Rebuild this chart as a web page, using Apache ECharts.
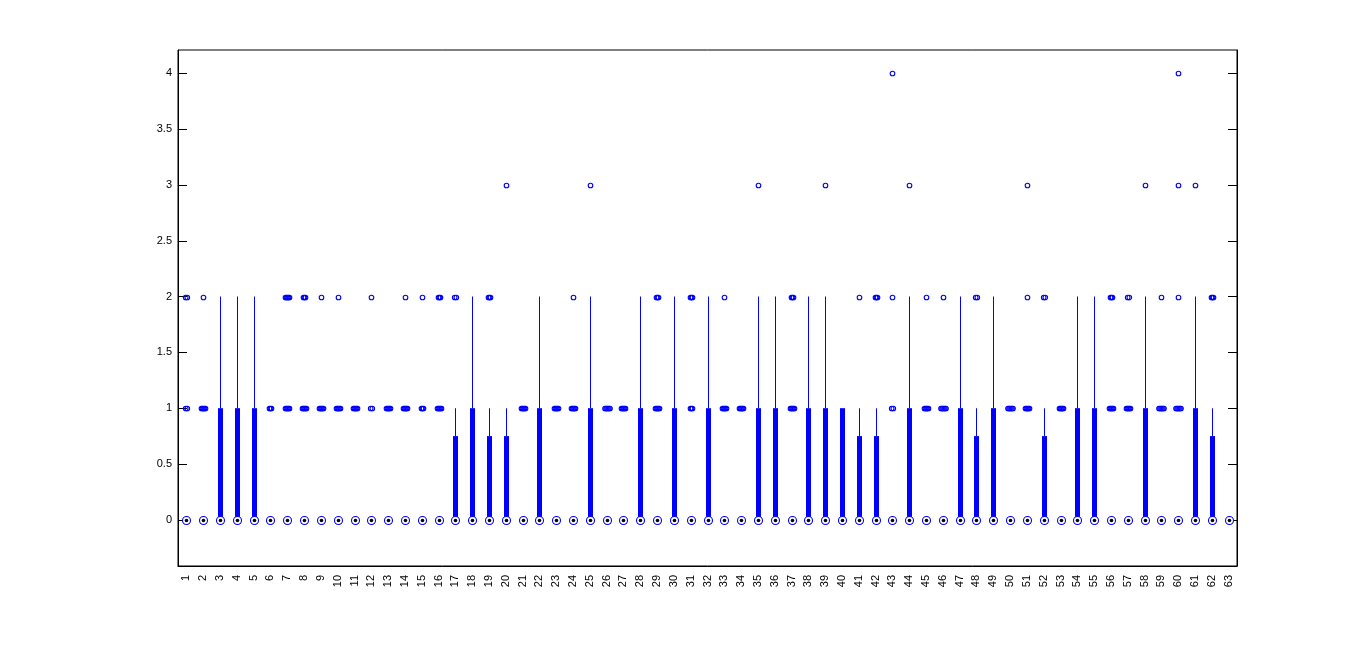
<!DOCTYPE html>
<html>
<head>
<meta charset="utf-8">
<script src="https://cdn.jsdelivr.net/npm/echarts@6/dist/echarts.min.js"></script>
<style>
html,body{margin:0;padding:0;background:#fff;}
#chart{width:1367px;height:662px;}
</style>
</head>
<body>
<div id="chart"></div>
<script>
const categories = ['1','2','3','4','5','6','7','8','9','10','11','12','13','14','15','16','17','18','19','20','21','22','23','24','25','26','27','28','29','30','31','32','33','34','35','36','37','38','39','40','41','42','43','44','45','46','47','48','49','50','51','52','53','54','55','56','57','58','59','60','61','62','63'];
const yTicks = [0, 0.5, 1, 1.5, 2, 2.5, 3, 3.5, 4];

const q1 = [0,0,0,0,0,0,0,0,0,0,0,0,0,0,0,0,0,0,0,0,0,0,0,0,0,0,0,0,0,0,0,0,0,0,0,0,0,0,0,0,0,0,0,0,0,0,0,0,0,0,0,0,0,0,0,0,0,0,0,0,0,0,0];
const medians = [0,0,0,0,0,0,0,0,0,0,0,0,0,0,0,0,0,0,0,0,0,0,0,0,0,0,0,0,0,0,0,0,0,0,0,0,0,0,0,0,0,0,0,0,0,0,0,0,0,0,0,0,0,0,0,0,0,0,0,0,0,0,0];
const q3 = [0,0,1,1,1,0,0,0,0,0, 0,0,0,0,0,0,0.75,1,0.75,0.75, 0,1,0,0,1,0,0,1,0,1, 0,1,0,0,1,1,0,1,1,1, 0.75,0.75,0,1,0,0,1,0.75,1,0, 0,0.75,0,1,1,0,0,1,0,0, 1,0.75,0];
const whiskerLow = [0,0,0,0,0,0,0,0,0,0,0,0,0,0,0,0,0,0,0,0,0,0,0,0,0,0,0,0,0,0,0,0,0,0,0,0,0,0,0,0,0,0,0,0,0,0,0,0,0,0,0,0,0,0,0,0,0,0,0,0,0,0,0];
const whiskerHigh = [0,0,2,2,2,0,0,0,0,0, 0,0,0,0,0,0,1,2,1,1, 0,2,0,0,2,0,0,2,0,2, 0,2,0,0,2,2,0,2,2,1, 1,1,0,2,0,0,2,1,2,0, 0,1,0,2,2,0,0,2,0,0, 2,1,0];

// outliers: [group number, value, number of coinciding points]
const outliers = [
  [1,1,2],[1,2,2],
  [2,1,5],[2,2,1],
  [6,1,3],
  [7,1,5],[7,2,5],
  [8,1,5],[8,2,3],
  [9,1,5],[9,2,1],
  [10,1,5],[10,2,1],
  [11,1,5],
  [12,1,2],[12,2,1],
  [13,1,5],
  [14,1,5],[14,2,1],
  [15,1,3],[15,2,1],
  [16,1,5],[16,2,3],
  [17,2,2],
  [19,2,3],
  [20,3,1],
  [21,1,5],
  [23,1,5],
  [24,1,5],[24,2,1],
  [25,3,1],
  [26,1,6],
  [27,1,5],
  [29,1,5],[29,2,3],
  [31,1,3],[31,2,3],
  [33,1,5],[33,2,1],
  [34,1,5],
  [35,3,1],
  [37,1,5],[37,2,3],
  [39,3,1],
  [41,2,1],
  [42,2,3],
  [43,1,2],[43,2,1],[43,4,1],
  [44,3,1],
  [45,1,5],[45,2,1],
  [46,1,6],[46,2,1],
  [48,2,2],
  [50,1,6],
  [51,1,5],[51,2,1],[51,3,1],
  [52,2,2],
  [53,1,5],
  [56,1,5],[56,2,3],
  [57,1,5],[57,2,2],
  [58,3,1],
  [59,1,6],[59,2,1],
  [60,1,6],[60,2,1],[60,3,1],[60,4,1],
  [61,3,1],
  [62,2,3]
];

const BLUE = '#0000ff';
const boxData = categories.map((c, i) => [i, q1[i], medians[i], q3[i], whiskerLow[i], whiskerHigh[i]]);
const outlierData = outliers.map(o => [o[0] - 1, o[1], o[2]]);

const chart = echarts.init(document.getElementById('chart'), null, {renderer: 'canvas'});

const yMin = -0.414, yMax = 4.209;

const option = {
  animation: false,
  backgroundColor: '#ffffff',
  grid: {left: 178, right: 130, top: 50, bottom: 96, show: true, borderColor: '#000', borderWidth: 1, backgroundColor: '#fff'},
  xAxis: {
    type: 'category',
    data: categories,
    boundaryGap: true,
    axisLine: {show: true, onZero: false, lineStyle: {color: '#000', width: 1}},
    axisTick: {show: false},
    axisLabel: {rotate: 90, margin: 9, color: '#000', fontFamily: 'Liberation Sans, Arial, sans-serif', fontSize: 11, interval: 0},
    splitLine: {show: false}
  },
  yAxis: [{
    type: 'value', min: yMin, max: yMax, position: 'left',
    axisLine: {show: true, lineStyle: {color: '#000'}},
    axisTick: {show: true, inside: true, length: 9, lineStyle: {color: '#000'}, customValues: yTicks},
    axisLabel: {color: '#000', fontFamily: 'Liberation Sans, Arial, sans-serif', fontSize: 11, margin: 6, customValues: yTicks, formatter: v => String(v)},
    splitLine: {show: false}
  }, {
    type: 'value', min: yMin, max: yMax, position: 'right',
    axisLine: {show: true, lineStyle: {color: '#000'}},
    axisTick: {show: true, inside: true, length: 9, lineStyle: {color: '#000'}, customValues: yTicks},
    axisLabel: {show: false},
    splitLine: {show: false}
  }],
  series: [{
    type: 'custom',
    clip: true,
    data: boxData,
    encode: {x: 0, y: [1, 3, 4, 5]},
    renderItem: function (params, api) {
      const idx = api.value(0);
      const p1 = api.coord([idx, api.value(1)]);
      const p3 = api.coord([idx, api.value(3)]);
      const pLo = api.coord([idx, api.value(4)]);
      const pHi = api.coord([idx, api.value(5)]);
      const x = Math.round(p1[0]);
      const children = [];
      if (pHi[1] < p3[1] - 0.5) {
        children.push({type: 'rect', shape: {x: x, y: pHi[1], width: 1, height: p3[1] - pHi[1]}, style: {fill: BLUE}});
      }
      if (pLo[1] > p1[1] + 0.5) {
        children.push({type: 'rect', shape: {x: x, y: p1[1], width: 1, height: pLo[1] - p1[1]}, style: {fill: BLUE}});
      }
      if (p1[1] - p3[1] > 0.5) {
        children.push({type: 'rect', shape: {x: x - 2, y: p3[1], width: 5, height: p1[1] - p3[1]}, style: {fill: BLUE}});
      }
      return {type: 'group', children: children};
    },
    z: 2
  }, {
    type: 'custom',
    clip: true,
    data: outlierData,
    encode: {x: 0, y: 1},
    renderItem: function (params, api) {
      const idx = api.value(0);
      const n = api.value(2);
      const p = api.coord([idx, api.value(1)]);
      const children = [];
      const step = n === 2 ? 1.6 : 1.0;
      for (let k = 0; k < n; k++) {
        const off = (k - (n - 1) / 2) * step;
        children.push({type: 'circle', shape: {cx: Math.round(p[0]) + 0.5 + off, cy: Math.round(p[1]) + 0.5, r: 2.3}, style: {fill: 'none', stroke: BLUE, lineWidth: 1.1}});
      }
      return {type: 'group', children: children};
    },
    z: 3
  }, {
    type: 'custom',
    clip: true,
    data: boxData,
    encode: {x: 0, y: 2},
    renderItem: function (params, api) {
      const idx = api.value(0);
      const p = api.coord([idx, api.value(2)]);
      const cx = Math.round(p[0]) + 0.5, cy = Math.round(p[1]) + 0.5;
      return {type: 'group', children: [
        {type: 'circle', shape: {cx: cx, cy: cy, r: 4}, style: {fill: '#fff', stroke: BLUE, lineWidth: 1.1}},
        {type: 'circle', shape: {cx: cx, cy: cy, r: 1.8}, style: {fill: '#000'}}
      ]};
    },
    z: 4
  }]
};
chart.setOption(option);
</script>
</body>
</html>
